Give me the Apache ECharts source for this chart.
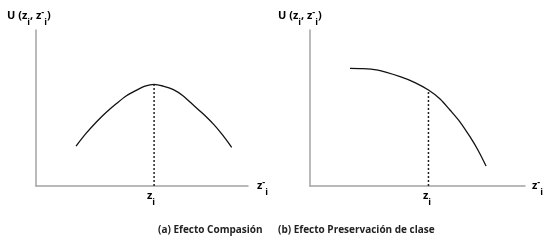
<!DOCTYPE html>
<html>
<head>
<meta charset="utf-8">
<script src="https://cdn.jsdelivr.net/npm/echarts@6/dist/echarts.min.js"></script>
<style>
  html, body { margin: 0; padding: 0; background: #fff; }
  #chart { width: 560px; height: 244px; }
</style>
</head>
<body>
<div id="chart"></div>
<script>
// (a) compassion effect: bell shaped utility, peak at z_i
var leftX = [18.9, 23.6, 28.6, 33.3, 38.1, 42.5, 47.5, 51.4, 55.7, 59.9, 64.8, 69.3, 74.2, 78.8, 83.6, 87.7, 92.3];
var leftY = [25.6, 33.7, 41.2, 47.4, 53.0, 57.7, 61.5, 64.0, 65.2, 64.1, 61.8, 57.9, 51.9, 46.3, 39.8, 33.2, 24.8];
var leftZi = 55.7;
var leftZiY = 65.2;

// (b) class preservation effect: flat then falling
var rightX = [18.6, 23.3, 31.0, 41.9, 48.8, 55.1, 60.5, 65.1, 69.8, 74.4, 78.1, 81.9];
var rightY = [75.4, 75.3, 74.4, 70.1, 66.3, 61.5, 55.8, 48.7, 41.0, 31.6, 23.1, 12.8];
var rightZi = 55.1;
var rightZiY = 61.5;

var captions = ['(a) Efecto Compasión', '(b) Efecto Preservación de clase'];

function pairs(xs, ys) {
  return xs.map(function (x, i) {
    return [x, ys[i]];
  });
}

var axisColor = '#a3a3a3';
var font = 'Open Sans';
var rich = {
  n: { fontSize: 11, fontWeight: 'bold', fontFamily: font, color: '#222', lineHeight: 22, verticalAlign: 'middle' },
  s: { fontSize: 9, fontWeight: 'bold', fontFamily: font, color: '#222', lineHeight: 22, verticalAlign: 'bottom' },
  m: { fontSize: 9, fontWeight: 'bold', fontFamily: font, color: '#222', lineHeight: 22, verticalAlign: 'top', padding: [3, 0, 0, 0] },
};

function axisX(idx) {
  return {
    type: 'value',
    gridIndex: idx,
    min: 0,
    max: 100,
    axisLine: { lineStyle: { color: axisColor, width: 1.5 } },
    axisTick: { show: false },
    axisLabel: { show: false },
    splitLine: { show: false },
  };
}
function axisY(idx) {
  return {
    type: 'value',
    gridIndex: idx,
    min: 0,
    max: 100,
    axisLine: { show: true, lineStyle: { color: axisColor, width: 1.5 } },
    axisTick: { show: false },
    axisLabel: { show: false },
    splitLine: { show: false },
  };
}

var myChart = echarts.init(document.getElementById('chart'));
var option = {
  animation: false,
  backgroundColor: '#fff',
  grid: [
    { left: 36, top: 30, width: 212, height: 156 },
    { left: 310, top: 30, width: 215, height: 156 },
  ],
  xAxis: [axisX(0), axisX(1)],
  yAxis: [axisY(0), axisY(1)],
  graphic: [
    { type: 'text', left: 7, top: 5, style: { text: '{n|U (z}{s|i}{n|, z}{m|-}{s|i}{n|)}', rich: rich } },
    { type: 'text', left: 278, top: 5, style: { text: '{n|U (z}{s|i}{n|, z}{m|-}{s|i}{n|)}', rich: rich } },
    { type: 'text', left: 257, top: 175, style: { text: '{n|z}{m|-}{s|i}', rich: rich } },
    { type: 'text', left: 532, top: 175, style: { text: '{n|z}{m|-}{s|i}', rich: rich } },
    { type: 'text', left: 147, top: 190, style: { text: '{n|z}{s|i}', rich: rich } },
    { type: 'text', left: 423, top: 190, style: { text: '{n|z}{s|i}', rich: rich } },
    {
      type: 'text',
      left: 158,
      top: 225,
      style: { text: captions[0], fontSize: 10, fontWeight: 'bold', fontFamily: font, fill: '#222' },
    },
    {
      type: 'text',
      left: 278,
      top: 225,
      style: { text: captions[1], fontSize: 10, fontWeight: 'bold', fontFamily: font, fill: '#222' },
    },
  ],
  series: [
    {
      type: 'line',
      xAxisIndex: 0,
      yAxisIndex: 0,
      data: pairs(leftX, leftY),
      smooth: 0.3,
      symbol: 'none',
      lineStyle: { color: '#111', width: 1.3 },
    },
    {
      type: 'line',
      xAxisIndex: 0,
      yAxisIndex: 0,
      data: [[leftZi, 0], [leftZi, leftZiY]],
      symbol: 'none',
      lineStyle: { color: '#222', width: 1.5, type: [2, 2] },
    },
    {
      type: 'line',
      xAxisIndex: 1,
      yAxisIndex: 1,
      data: pairs(rightX, rightY),
      smooth: 0.3,
      symbol: 'none',
      lineStyle: { color: '#111', width: 1.3 },
    },
    {
      type: 'line',
      xAxisIndex: 1,
      yAxisIndex: 1,
      data: [[rightZi, 0], [rightZi, rightZiY]],
      symbol: 'none',
      lineStyle: { color: '#222', width: 1.5, type: [2, 2] },
    },
  ],
};
option && myChart.setOption(option);
window.addEventListener('resize', function () {
  myChart.resize();
});
</script>
</body>
</html>
